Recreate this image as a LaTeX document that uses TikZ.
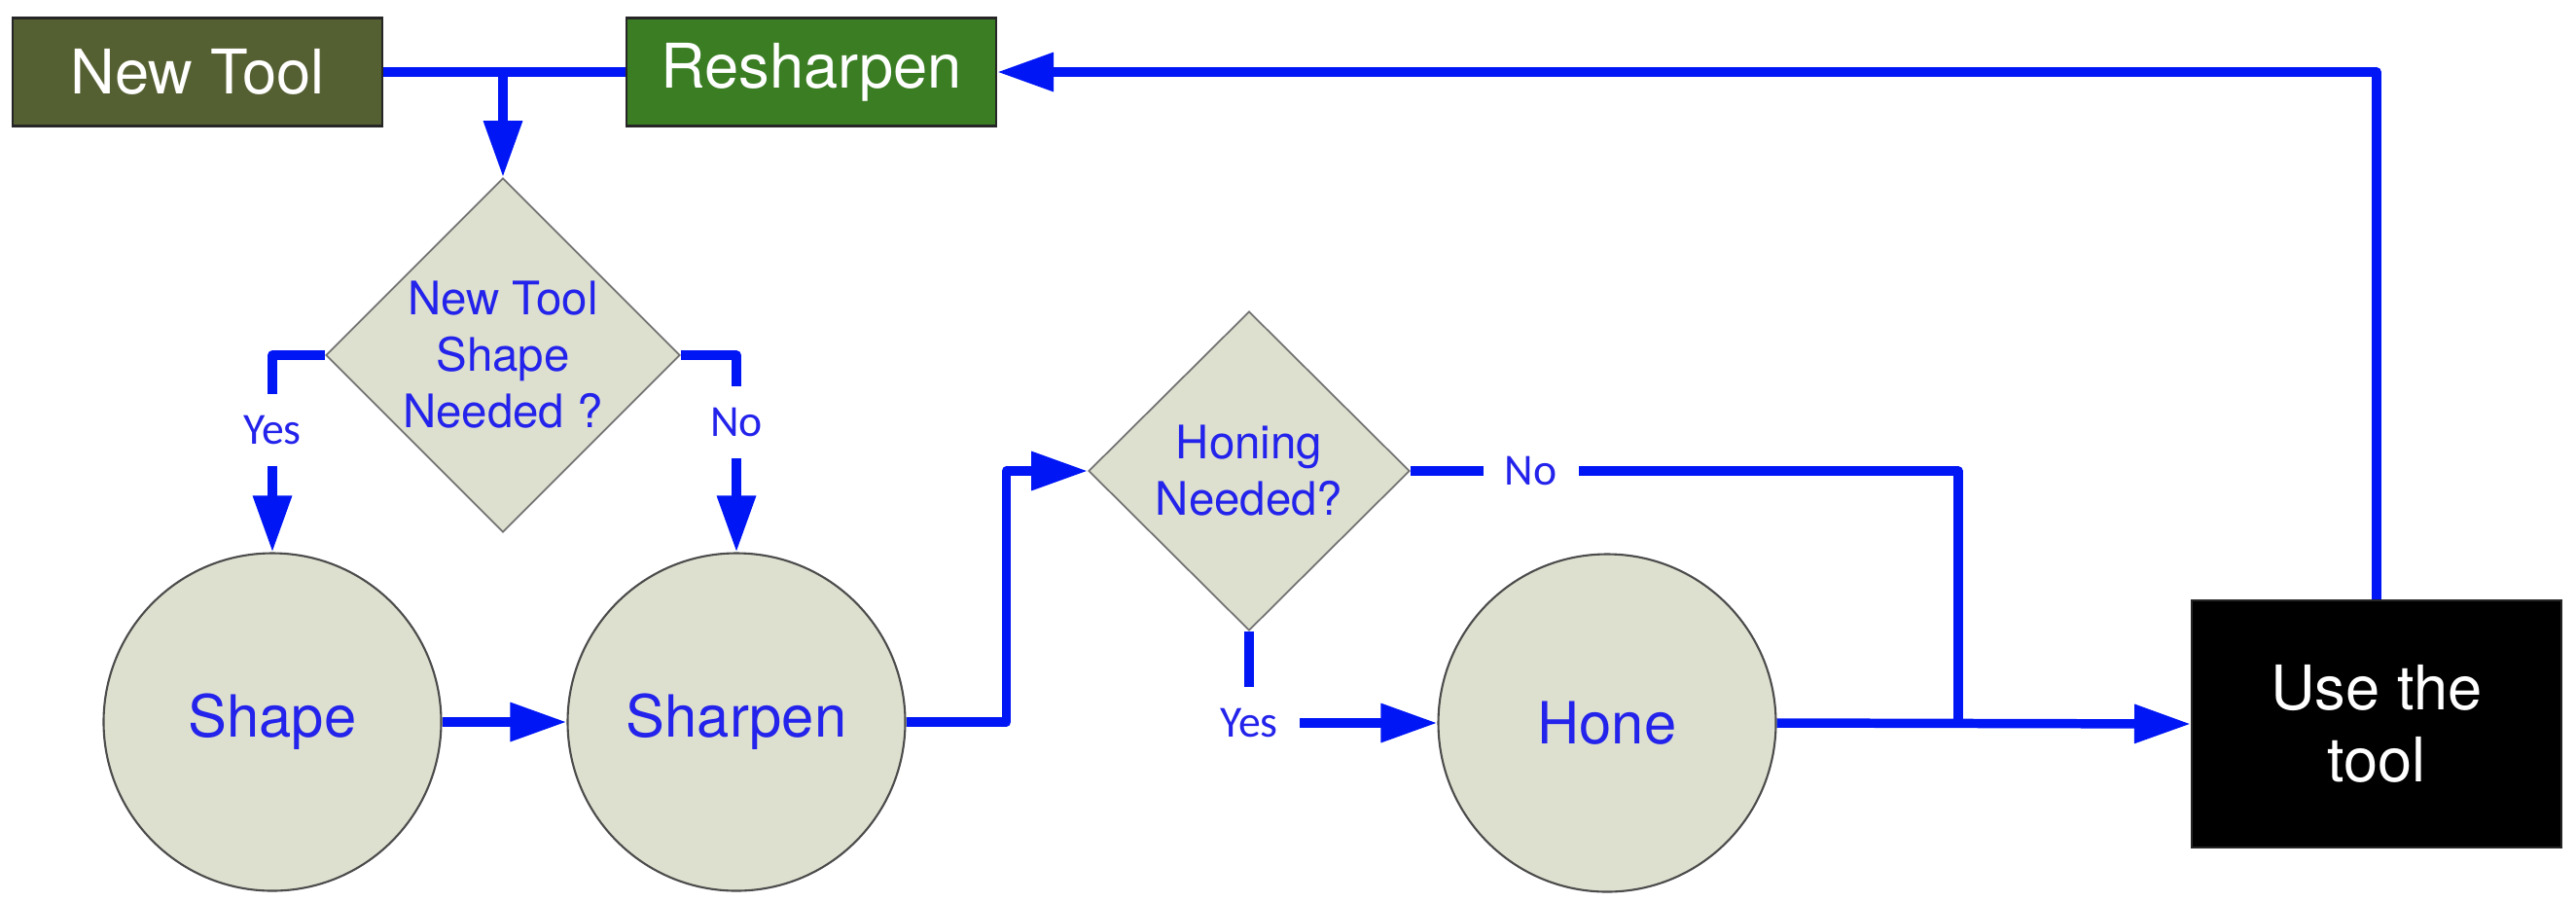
\documentclass[tikz,border=0pt]{standalone}
\usepackage{fontspec}
\setmainfont{TeX Gyre Heros}
\newfontfamily\labelfont{Carlito}
\usetikzlibrary{shapes.geometric,arrows.meta}
\definecolor{flowblue}{RGB}{0,22,245}
\definecolor{textblue}{RGB}{35,35,235}
\definecolor{stone}{RGB}{222,224,207}
\definecolor{toololive}{RGB}{85,96,50}
\definecolor{sharpgreen}{RGB}{58,125,35}

\begin{document}
\begin{tikzpicture}
	\tikzset{flow/.style={draw=flowblue, line width=2.7pt, line join=round}}
	\tikzset{arr/.style={flow, -{Triangle[length=5.8mm,width=3.8mm]}}}
	\tikzset{box/.style={draw=black!85, line width=0.6pt, minimum width=3.8cm, minimum height=1.11cm, text=white, font=\fontsize{18}{21}\selectfont}}
	\tikzset{ask/.style={diamond, draw=black!55, line width=0.5pt, fill=stone, inner sep=0pt, text=textblue, align=center, font=\fontsize{13.5}{16.5}\selectfont}}
	\tikzset{job/.style={circle, draw=black!70, line width=0.6pt, fill=stone, minimum size=3.47cm, text=textblue, font=\fontsize{17}{20}\selectfont}}
	\tikzset{lbl/.style={fill=white, inner sep=2.2mm, text=textblue, font=\labelfont\fontsize{13}{15}\selectfont}}

	\useasboundingbox (0,0) rectangle (26.48,-9.26);

	\node[box, fill=toololive] (newtool) at (2.03,-0.74) {New Tool};
	\node[box, fill=sharpgreen] (resharpen) at (8.34,-0.74) {Resharpen};
	\node[ask, minimum width=3.64cm, minimum height=3.64cm] (q1) at (5.17,-3.65) {New Tool\\Shape\\Needed ?};
	\node[job] (shape) at (2.80,-7.42) {Shape};
	\node[job] (sharpen) at (7.57,-7.42) {Sharpen};
	\node[ask, minimum width=3.30cm, minimum height=3.28cm] (q2) at (12.84,-4.84) {Honing\\Needed?};
	\node[job] (hone) at (16.52,-7.43) {Hone};
	\node[box, fill=black, minimum height=2.54cm, align=center] (use) at (24.43,-7.44) {Use the\\tool};

	\coordinate (split) at (5.17,-0.74);
	\coordinate (merge) at (20.13,-7.43);

	\draw[flow] (newtool.east) -- (resharpen.west);
	\draw[arr] (split) -- (q1.north);
	\draw[arr] (q1.west) -| node[lbl, pos=0.69] {Yes} (shape.north);
	\draw[arr] (q1.east) -| node[lbl, pos=0.67] {No} (sharpen.north);
	\draw[arr] (shape.east) -- (sharpen.west);
	\draw[arr] (sharpen.east) -- ++(1.03,0) |- (q2.west);
	\draw[arr] (q2.south) |- node[lbl] {Yes} (hone.west);
	\draw[flow] (q2.east) -| node[lbl, pos=0.11] {No} (merge);
	\draw[arr] (hone.east) -- (use.west);
	\draw[arr] (use.north) |- (resharpen.east);
\end{tikzpicture}
\end{document}
